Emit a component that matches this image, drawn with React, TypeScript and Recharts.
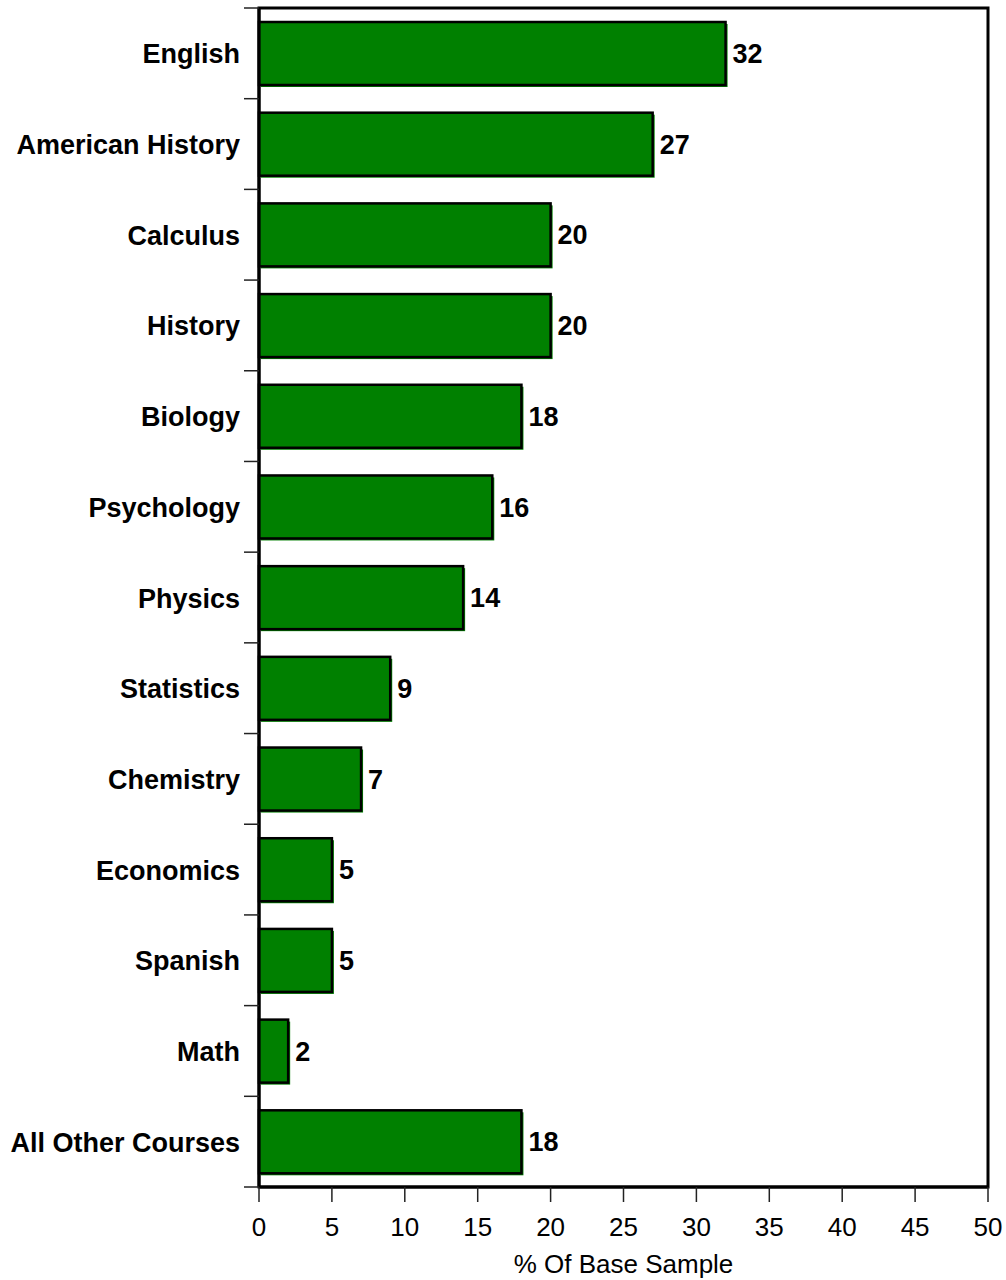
import React from 'react';
import { BarChart, Bar, XAxis, YAxis, LabelList, ReferenceArea } from 'recharts';

const courses = [
  'English', 'American History', 'Calculus', 'History', 'Biology', 'Psychology',
  'Physics', 'Statistics', 'Chemistry', 'Economics', 'Spanish', 'Math', 'All Other Courses',
];
const percents = [32, 27, 20, 20, 18, 16, 14, 9, 7, 5, 5, 2, 18];
const xTicks = [0, 5, 10, 15, 20, 25, 30, 35, 40, 45, 50];

const data = courses.map((name, i) => ({ name, value: percents[i] }));

const FONT = '"Liberation Sans", Arial, Helvetica, sans-serif';
const W = 1006;
const H = 1280;
const TOP = 8;
const BOTTOM = 93;
const BAND = (H - TOP - BOTTOM) / courses.length;

const BarShape = (props: any) => {
  const { x, y, width, height } = props;
  return (
    <g>
      <rect x={x + 2} y={y + 2} width={width} height={height} fill="#008000" />
      <rect x={x} y={y} width={width} height={height} fill="#008000" stroke="#000" strokeWidth={2.5} />
    </g>
  );
};

const CourseTick = (props: any) => {
  const { x, y, payload, index } = props;
  const axisX = x + 19;
  return (
    <g>
      <line x1={axisX - 15} x2={axisX} y1={y - BAND / 2} y2={y - BAND / 2} stroke="#222" strokeWidth={1.5} />
      {index === courses.length - 1 && (
        <line x1={axisX - 15} x2={axisX} y1={y + BAND / 2} y2={y + BAND / 2} stroke="#222" strokeWidth={1.5} />
      )}
      <text x={x} y={y + 10} textAnchor="end" fontFamily={FONT} fontSize={27} fontWeight="bold" fill="#000">
        {payload.value}
      </text>
    </g>
  );
};

const AxisTitle = () => (
  <text x={623.5} y={1273} textAnchor="middle" fontFamily={FONT} fontSize={26} fill="#000">
    % Of Base Sample
  </text>
);

export default function App() {
  return (
    <div style={{ position: 'absolute', left: 0, top: 0, width: W, height: H, background: '#fff' }}>
      <BarChart
        width={W}
        height={H}
        data={data}
        layout="vertical"
        margin={{ top: TOP, right: 18, left: 0, bottom: 0 }}
        barSize={63}
      >
        <XAxis
          type="number"
          domain={[0, 50]}
          ticks={xTicks}
          height={BOTTOM}
          tickSize={15}
          tickMargin={16}
          axisLine={{ stroke: '#000', strokeWidth: 3 }}
          tickLine={{ stroke: '#222', strokeWidth: 1.5 }}
          tick={{ fontSize: 26, fill: '#000', fontFamily: FONT }}
          interval={0}
          label={<AxisTitle />}
        />
        <YAxis
          type="category"
          dataKey="name"
          width={259}
          tickSize={0}
          tickMargin={19}
          tickLine={false}
          axisLine={{ stroke: '#000', strokeWidth: 3 }}
          tick={<CourseTick />}
          interval={0}
        />
        <ReferenceArea x1={0} x2={50} fill="none" fillOpacity={0} stroke="#000" strokeWidth={3} />
        <Bar dataKey="value" shape={<BarShape />} isAnimationActive={false}>
          <LabelList
            dataKey="value"
            position="right"
            offset={7}
            fill="#000"
            fontFamily={FONT}
            fontSize={27}
            fontWeight="bold"
          />
        </Bar>
      </BarChart>
    </div>
  );
}
